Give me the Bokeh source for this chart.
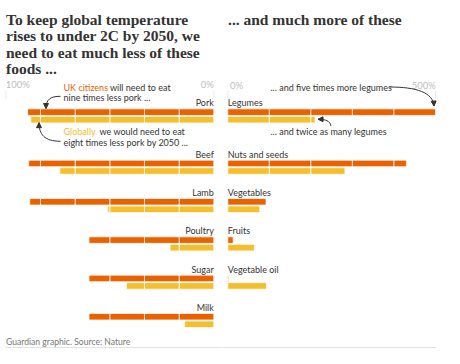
from bokeh.plotting import figure
from bokeh.layouts import row
from bokeh.models import Range1d, Arrow, NormalHead
from bokeh.embed import file_html
from bokeh.resources import INLINE
from bokeh.core.properties import value

# ---------------- data ----------------
less_foods = ["Pork", "Beef", "Lamb", "Poultry", "Sugar", "Milk"]
less_uk = [89.5, 89, 88.5, 60, 60, 60]          # % reduction, UK citizens
less_global = [88, 74, 51, 21, 42, 14]          # % reduction, global
more_foods = ["Legumes", "Nuts and seeds", "Vegetables", "Fruits", "Vegetable oil"]
more_uk = [500, 430, 92, 13, 2]                 # % increase, UK citizens
more_global = [210, 282, 77, 64, 93]            # % increase, global
left_ticks = [100, 0]
left_tick_labels = ["100%", "0%"]
right_ticks = [0, 500]
right_tick_labels = ["0%", "500%"]

ORANGE = "#eb6100"
YELLOW = "#f5be2c"
DARK = "#333333"
GREY = "#bdbdbd"
SANS = value("Lato")
SERIF = value("Liberation Serif")

W, H = 222, 348
YR = (356, 0)            # vertical layout units (inverted)

# row layout (vertical units)
def row_y(i):
    return 114.2 if i == 0 else 166.7 + 39.2 * (i - 1)

BAR_H = 6.7
GAP = 7.7

# horizontal helpers (layout positions for annotations)
LPX = 2.08
def lx(px):
    return 100 - (px - 5.3) / LPX

RPX = 0.4154
def rx(px):
    return (px - 227.3) / RPX


def make_fig(xr):
    p = figure(width=W, height=H, x_range=xr, y_range=Range1d(*YR),
               output_backend="svg", toolbar_location=None, min_border=0,
               x_axis_location=None, y_axis_location=None)
    p.grid.visible = False
    p.outline_line_color = None
    p.background_fill_color = "white"
    p.border_fill_color = "white"
    return p


def segments(v, step):
    segs = []
    a = 0.0
    while a + step < v - 1e-9:
        segs.append((a, a + step))
        a += step
    segs.append((a, v))
    return segs


def draw_bars(p, uk, gl, step):
    for vals, color, off in ((uk, ORANGE, 0.0), (gl, YELLOW, GAP)):
        ys, lefts, rights = [], [], []
        for i, v in enumerate(vals):
            for a, b in segments(v, step):
                ys.append(row_y(i) + off)
                lefts.append(a)
                rights.append(b)
        p.hbar(y=ys, left=lefts, right=rights, height=BAR_H, fill_color=color,
               line_color="white", line_alpha=0.75, line_width=1)


def arrow_curve(p, x0, y0, cx0, cy0, cx1, cy1, x1, y1):
    p.bezier(x0=[x0], y0=[y0], x1=[x1], y1=[y1], cx0=[cx0], cy0=[cy0],
             cx1=[cx1], cy1=[cy1], line_color=DARK, line_width=1)
    p.add_layout(Arrow(end=NormalHead(size=5, fill_color=DARK, line_color=DARK),
                       x_start=cx1 + (x1 - cx1) * 0.6, y_start=cy1 + (y1 - cy1) * 0.6,
                       x_end=x1, y_end=y1, line_alpha=0))


def label(p, x, y, txt, color=DARK, size="9px", align="left"):
    p.text(x=[x], y=[y], text=[txt], text_font=SANS, text_font_size=size,
           text_color=color, text_align=align, text_baseline="middle")


# ---------------- left panel ----------------
L = make_fig(Range1d(lx(0), lx(222)))

title_l = ["To keep global temperature", "rises to under 2C by 2050, we",
           "need to eat much less of these", "foods ..."]
L.text(x=[lx(5.5)] * 4, y=[19, 36, 53, 69.5], text=title_l, text_font=SERIF,
       text_font_style="bold", text_font_size="15.5px", text_color=DARK,
       text_align="left", text_baseline="alphabetic")

# tick labels and small ticks
L.text(x=left_ticks, y=[86, 86], text=left_tick_labels, text_font=SANS,
       text_font_size="9.5px", text_color=GREY, text_align=["left", "right"],
       text_baseline="middle")
L.segment(x0=left_ticks, x1=left_ticks, y0=[92, 92], y1=[101, 101],
          line_color="#ececec", line_width=1)

draw_bars(L, less_uk, less_global, 100 / 6)

L.text(x=[0] * len(less_foods), y=[row_y(i) - 9.5 for i in range(len(less_foods))],
       text=less_foods, text_font=SANS, text_font_size="9px", text_color=DARK,
       text_align="right", text_baseline="middle")

# annotations
label(L, lx(63), 88.5, "UK citizens", ORANGE)
label(L, lx(109.5), 88.5, "will need to eat")
label(L, lx(63), 99.5, "nine times less pork ...")
label(L, lx(63), 134, "Globally", YELLOW)
label(L, lx(99), 134, "we would need to eat")
label(L, lx(63), 145, "eight times less pork by 2050 ...")

arrow_curve(L, lx(60), 98, lx(50), 98, lx(45.5), 101, lx(45.5), 110.5)
arrow_curve(L, lx(60), 144, lx(44), 144, lx(38.5), 137, lx(38.5), 125)

label(L, lx(5.5), 349, "Guardian graphic. Source: Nature", "#767676", "8.6px")
L.segment(x0=[lx(5)], x1=[lx(222)], y0=[355.2], y1=[355.2], line_color="#dcdcdc", line_width=1)

# ---------------- right panel ----------------
R = make_fig(Range1d(rx(222), rx(444)))

R.text(x=[rx(227.5)], y=[19], text=["... and much more of these"], text_font=SERIF,
       text_font_style="bold", text_font_size="15.5px", text_color=DARK,
       text_align="left", text_baseline="alphabetic")

R.text(x=[rx(229.5), rx(435.3)], y=[86.5, 86.5], text=right_tick_labels, text_font=SANS,
       text_font_size="9.5px", text_color=GREY, text_align=["left", "right"],
       text_baseline="middle")
R.segment(x0=right_ticks, x1=right_ticks, y0=[92, 92], y1=[101, 101],
          line_color="#ececec", line_width=1)

draw_bars(R, more_uk, more_global, 100)

R.text(x=[0] * len(more_foods), y=[row_y(i) - 9.5 for i in range(len(more_foods))],
       text=more_foods, text_font=SANS, text_font_size="9px", text_color=DARK,
       text_align="left", text_baseline="middle")

label(R, rx(270), 89, "... and five times more legumes")
label(R, rx(270), 134.5, "... and twice as many legumes")

arrow_curve(R, rx(389), 88.5, rx(416), 88.5, rx(432.5), 94, rx(433.5), 108)
arrow_curve(R, rx(330.5), 128.5, rx(329.5), 123, rx(325), 121.5, rx(317.5), 121.5)

R.segment(x0=[rx(222)], x1=[rx(436)], y0=[355.2], y1=[355.2], line_color="#dcdcdc", line_width=1)

layout = row(L, R, spacing=0)
open("out.html", "w").write(file_html(layout, INLINE))
